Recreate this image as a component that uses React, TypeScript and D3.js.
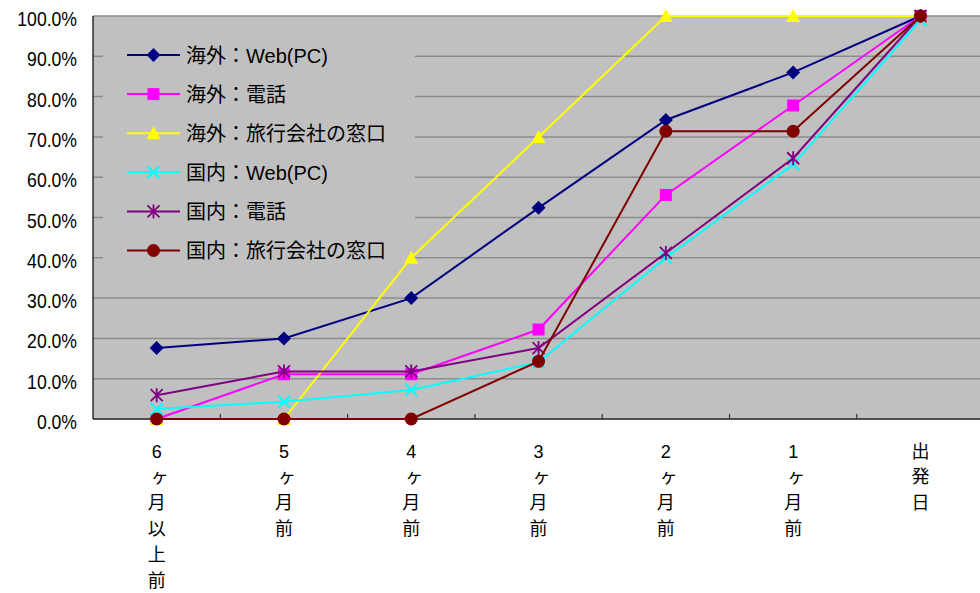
import React from "react";
import * as d3 from "d3";

// Booking timing: cumulative share of reservations made by each point before departure
const categories = ["6ヶ月以上前", "5ヶ月前", "4ヶ月前", "3ヶ月前", "2ヶ月前", "1ヶ月前", "出発日"];
const yTicks = [0, 0.1, 0.2, 0.3, 0.4, 0.5, 0.6, 0.7, 0.8, 0.9, 1.0];

const seriesNames = [
  "海外：Web(PC)",
  "海外：電話",
  "海外：旅行会社の窓口",
  "国内：Web(PC)",
  "国内：電話",
  "国内：旅行会社の窓口",
];

const overseasWeb = [0.176, 0.2, 0.3, 0.524, 0.742, 0.86, 1.0];
const overseasPhone = [0.0, 0.111, 0.111, 0.222, 0.556, 0.778, 1.0];
const overseasAgency = [0.0, 0.0, 0.4, 0.7, 1.0, 1.0, 1.0];
const domesticWeb = [0.025, 0.043, 0.072, 0.141, 0.4, 0.632, 0.99];
const domesticPhone = [0.059, 0.118, 0.118, 0.176, 0.412, 0.647, 1.0];
const domesticAgency = [0.0, 0.0, 0.0, 0.143, 0.714, 0.714, 1.0];

const seriesValues = [overseasWeb, overseasPhone, overseasAgency, domesticWeb, domesticPhone, domesticAgency];
const seriesColors = ["#000080", "#FF00FF", "#FFFF00", "#00FFFF", "#800080", "#800000"];
const seriesMarkers = ["diamond", "square", "triangle", "x", "asterisk", "circle"];

const W = 980;
const H = 593;
const plotLeft = 93;
const plotTop = 16;
const plotBottom = 419;
const band = 127.3;

const x = d3
  .scaleBand<string>()
  .domain(categories)
  .range([plotLeft, plotLeft + band * categories.length])
  .paddingInner(0)
  .paddingOuter(0);
const y = d3.scaleLinear().domain([0, 1]).range([plotBottom, plotTop]);
const cx = (c: string) => (x(c) as number) + x.bandwidth() / 2;

const mixedFont = "'Liberation Sans', 'Noto Sans CJK JP', sans-serif";

function Marker({ kind, color, px, py }: { kind: string; color: string; px: number; py: number }) {
  const t = `translate(${px},${py})`;
  switch (kind) {
    case "diamond":
      return <path transform={t} d="M0,-7L7,0L0,7L-7,0Z" fill={color} />;
    case "square":
      return <rect x={px - 6} y={py - 6} width={12} height={12} fill={color} />;
    case "triangle":
      return <path transform={t} d="M0,-7L7,6L-7,6Z" fill={color} />;
    case "x":
      return (
        <path transform={t} d="M-6,-6L6,6M-6,6L6,-6" stroke={color} strokeWidth={2} fill="none" />
      );
    case "asterisk":
      return (
        <path
          transform={t}
          d="M-6,-6L6,6M-6,6L6,-6M0,-7L0,7"
          stroke={color}
          strokeWidth={1.8}
          fill="none"
        />
      );
    default:
      return <circle cx={px} cy={py} r={6.5} fill={color} />;
  }
}

export default function App() {
  const line = d3
    .line<number>()
    .x((_, i) => cx(categories[i]))
    .y((v) => y(v));

  const legendX0 = 127;
  const legendX1 = 180;
  const legendY0 = 55;
  const legendStep = 39.1;

  return (
    <div style={{ position: "absolute", left: 0, top: 0 }}>
      <svg width={W} height={H} style={{ display: "block", background: "#fff" }}>
        {/* plot area */}
        <rect
          x={plotLeft}
          y={plotTop}
          width={band * categories.length}
          height={plotBottom - plotTop}
          fill="#C0C0C0"
        />
        {/* horizontal gridlines */}
        {yTicks.map((t) => (
          <line
            key={t}
            x1={plotLeft}
            x2={plotLeft + band * categories.length}
            y1={y(t)}
            y2={y(t)}
            stroke="#8C8C8C"
            strokeWidth={1.5}
          />
        ))}
        {/* legend backdrop */}
        <rect x={103} y={31} width={312} height={237} fill="#C0C0C0" />

        {/* axes */}
        <line x1={plotLeft} x2={plotLeft} y1={plotTop} y2={plotBottom} stroke="#000" strokeWidth={1.2} />
        <line
          x1={plotLeft}
          x2={plotLeft + band * categories.length}
          y1={plotBottom}
          y2={plotBottom}
          stroke="#000"
          strokeWidth={1.2}
        />
        {categories.slice(1).map((c) => (
          <line
            key={c}
            x1={x(c) as number}
            x2={x(c) as number}
            y1={plotBottom}
            y2={plotBottom - 5}
            stroke="#333"
            strokeWidth={1.2}
          />
        ))}

        {/* y tick labels */}
        {yTicks.map((t) => (
          <text
            key={t}
            transform={`translate(77,${y(t) + 10}) scale(0.88,1)`}
            textAnchor="end"
            fontFamily="'Liberation Sans', Arial, sans-serif"
            fontSize={20}
            fill="#000"
          >
            {d3.format(".1%")(t)}
          </text>
        ))}

        {/* x category labels, one character per line */}
        {categories.map((c) => (
          <text key={c} textAnchor="middle" fontFamily={mixedFont} fontSize={18} fill="#000">
            {Array.from(c).map((ch, i) => (
              <tspan key={i} x={cx(c) + (ch === "ヶ" ? 3 : 0)} y={457.5 + i * 25.8}>
                {ch}
              </tspan>
            ))}
          </text>
        ))}

        {/* series */}
        {seriesValues.map((vals, s) => (
          <g key={s}>
            <path d={line(vals) || ""} fill="none" stroke={seriesColors[s]} strokeWidth={2} />
            {vals.map((v, i) => (
              <Marker
                key={i}
                kind={seriesMarkers[s]}
                color={seriesColors[s]}
                px={cx(categories[i])}
                py={y(v)}
              />
            ))}
          </g>
        ))}

        {/* legend */}
        {seriesNames.map((name, s) => {
          const ly = legendY0 + s * legendStep;
          return (
            <g key={name}>
              <line x1={legendX0} x2={legendX1} y1={ly} y2={ly} stroke={seriesColors[s]} strokeWidth={2} />
              <Marker kind={seriesMarkers[s]} color={seriesColors[s]} px={(legendX0 + legendX1) / 2} py={ly} />
              <text x={186} y={ly + 7.5} fontFamily={mixedFont} fontSize={20} fill="#000">
                {name}
              </text>
            </g>
          );
        })}
      </svg>
    </div>
  );
}
